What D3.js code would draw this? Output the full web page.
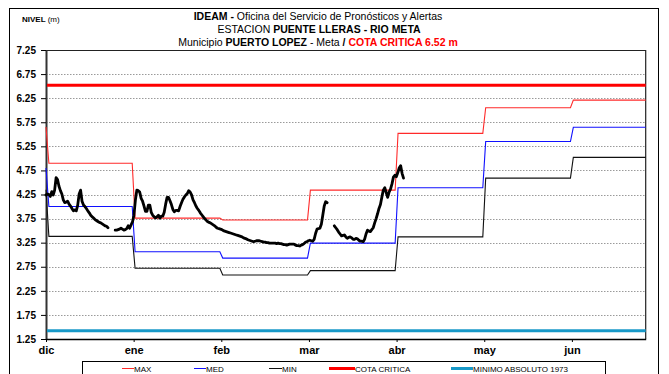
<!DOCTYPE html>
<html>
<head>
<meta charset="utf-8">
<script src="https://cdn.jsdelivr.net/npm/d3@7"></script>
<style>
  body { margin: 0; background: #fff; }
  svg text { font-family: "Liberation Sans", Arial, sans-serif; }
</style>
</head>
<body>
<svg id="chart" width="669" height="374"></svg>
<script>
// Etiquetas del eje de tiempo (una marca por mes)
const meses = ["dic", "ene", "feb", "mar", "abr", "may", "jun"];
const diasPorMes = 30.4;
const diasEje = 208;

// Niveles mensuales históricos (m)
const nivelMax = [4.90, 3.76, 3.72, 4.34, 5.52, 6.05, 6.21];
const nivelMed = [4.00, 3.06, 2.93, 3.24, 4.39, 5.35, 5.645];
const nivelMin = [3.38, 2.72, 2.58, 2.67, 3.37, 4.59, 5.02];
// Valor con que arranca cada curva el primer día
const inicioMax = 5.65;
const inicioMed = 4.80;
const inicioMin = 4.35;

const cotaCritica = 6.52;
const minimoAbsoluto = 1.42;

const ticksNivel = [1.25, 1.75, 2.25, 2.75, 3.25, 3.75, 4.25, 4.75, 5.25, 5.75, 6.25, 6.75, 7.25];

// Nivel observado: dos lecturas por día desde el 1 de diciembre (null = sin dato)
const nivelObservado = [
  4.24, 4.26, 4.25, 4.21, 4.31, 4.24, 4.34, 4.60, 4.56, 4.42,
  4.33, 4.26, 4.14, 4.08, 4.09, 4.11, 4.05, 4.01, 3.96, 3.91,
  3.93, 3.91, 4.03, 4.26, 4.34, 4.11, 4.03, 4.00, 3.96, 3.91,
  3.87, 3.82, 3.79, 3.76, 3.73, 3.71, 3.69, 3.67, 3.66, 3.64,
  3.62, 3.60, 3.59, 3.56, null, null, null, null, 3.51, 3.51,
  3.52, 3.53, 3.55, 3.53, 3.51, 3.52, 3.54, 3.60, 3.55, 3.62,
  3.68, 3.82, 4.13, 4.34, 4.33, 4.30, 4.17, 4.11, 4.01, 3.90,
  3.90, 4.03, 4.03, 3.88, 3.82, 3.79, 3.76, 3.79, 3.82, 3.76,
  3.80, 3.80, 3.88, 4.05, 4.19, 4.19, 4.12, 4.04, 3.94, 3.89,
  3.92, 3.92, 3.91, 4.00, 4.08, 4.15, 4.20, 4.24, 4.27, 4.33,
  4.30, 4.24, 4.14, 4.08, 4.01, 3.96, 3.92, 3.87, 3.83, 3.79,
  3.75, 3.72, 3.69, 3.67, 3.66, 3.64, 3.62, 3.60, 3.57, 3.55,
  3.54, 3.53, 3.52, 3.50, 3.49, 3.48, 3.47, 3.46, 3.45, 3.44,
  3.43, 3.42, 3.41, 3.40, 3.39, 3.38, 3.37, 3.35, 3.34, 3.33,
  3.31, 3.30, 3.29, 3.28, 3.27, 3.28, 3.29, 3.29, 3.29, 3.28,
  3.27, 3.26, 3.26, 3.25, 3.25, 3.24, 3.24, 3.24, 3.24, 3.24,
  3.23, 3.24, 3.23, 3.23, 3.22, 3.21, 3.21, 3.20, 3.21, 3.22,
  3.22, 3.22, 3.22, 3.20, 3.19, 3.19, 3.18, 3.20, 3.21, 3.23,
  3.26, 3.27, 3.29, 3.30, 3.29, 3.28, 3.32, 3.44, 3.53, 3.54,
  3.55, 3.63, 3.82, 4.01, 4.10, 4.08, null, null, null, null,
  3.60, 3.56, 3.52, 3.47, 3.43, 3.39, 3.40, 3.41, 3.37, 3.34,
  3.36, 3.37, 3.35, 3.32, 3.32, 3.34, 3.33, 3.30, 3.28, 3.28,
  3.27, 3.32, 3.43, 3.51, 3.49, 3.48, 3.52, 3.56, 3.66, 3.75,
  3.85, 3.96, 4.04, 4.20, 4.34, 4.39, 4.29, 4.19, 4.30, 4.36,
  4.47, 4.61, 4.65, 4.62, 4.70, 4.80, 4.85, 4.69, 4.59
];

const svg = d3.select("#chart");

const x = d3.scaleLinear().domain([0, diasEje]).range([46, 645.7]);
const y = d3.scaleLinear().domain([1.25, 7.25]).range([339, 50]);

// Marco exterior del gráfico
svg.append("rect")
  .attr("x", 9.5).attr("y", 8.5)
  .attr("width", 649).attr("height", 380)
  .attr("fill", "none").attr("stroke", "#000").attr("stroke-width", 1);

// Líneas de cuadrícula punteadas
svg.append("g")
  .selectAll("line")
  .data(ticksNivel.filter(t => t > 1.25 && t < 7.25))
  .join("line")
  .attr("x1", x(0)).attr("x2", x(diasEje))
  .attr("y1", d => Math.round(y(d)) + 0.5).attr("y2", d => Math.round(y(d)) + 0.5)
  .attr("stroke", "#9a9a9a").attr("stroke-width", 1)
  .attr("stroke-dasharray", "1.5,1.5");

// Borde superior y derecho del área de trazado
svg.append("path")
  .attr("d", `M${x(0)},${y(7.25) + 0.5}H${x(diasEje)}V${y(1.25)}`)
  .attr("fill", "none").attr("stroke", "#222").attr("stroke-width", 1.2);

// Eje Y
const ejeY = d3.axisLeft(y).tickValues(ticksNivel).tickFormat(d3.format(".2f"))
  .tickSize(5).tickSizeOuter(0);
const gY = svg.append("g").attr("transform", `translate(${x(0)},0)`).call(ejeY);
gY.select(".domain").attr("stroke", "#333").attr("stroke-width", 2);
gY.selectAll(".tick line").attr("stroke", "#000");
gY.selectAll(".tick text")
  .attr("x", -10)
  .style("font-size", "10px").style("font-weight", "bold")
  .attr("fill", "#000");

// Eje X con una marca por mes
const ejeX = d3.axisBottom(x)
  .tickValues(meses.map((m, i) => i * diasPorMes))
  .tickFormat((d, i) => meses[i])
  .tickSize(3).tickSizeOuter(0);
const gX = svg.append("g").attr("transform", `translate(0,${y(1.25)})`).call(ejeX);
gX.select(".domain").attr("stroke", "#000").attr("stroke-width", 1.5);
gX.selectAll(".tick line").attr("stroke", "#000");
gX.selectAll(".tick text")
  .attr("y", 7)
  .style("font-size", "11px").style("font-weight", "bold")
  .attr("fill", "#000");

// Curvas escalonadas de niveles mensuales
function escalon(inicio, valores) {
  const pts = [[0, inicio], [1, valores[0]]];
  for (let k = 1; k < valores.length; k++) {
    pts.push([k * diasPorMes - 0.5, valores[k - 1]]);
    pts.push([k * diasPorMes + 0.5, valores[k]]);
  }
  pts.push([diasEje, valores[valores.length - 1]]);
  return pts;
}
const linea = d3.line().x(d => x(d[0])).y(d => y(d[1]));

const series = [
  { valores: nivelMax, inicio: inicioMax, color: "#ff2a2a" },
  { valores: nivelMed, inicio: inicioMed, color: "#1010ff" },
  { valores: nivelMin, inicio: inicioMin, color: "#111" }
];
svg.append("g").selectAll("path")
  .data(series)
  .join("path")
  .attr("d", s => linea(escalon(s.inicio, s.valores)))
  .attr("fill", "none")
  .attr("stroke", s => s.color)
  .attr("stroke-width", 1.1);

// Cota crítica y mínimo absoluto
svg.append("line")
  .attr("x1", x(0) + 1).attr("x2", x(diasEje))
  .attr("y1", y(cotaCritica)).attr("y2", y(cotaCritica))
  .attr("stroke", "#ff0000").attr("stroke-width", 3);
svg.append("line")
  .attr("x1", x(0) + 1).attr("x2", x(diasEje))
  .attr("y1", y(minimoAbsoluto)).attr("y2", y(minimoAbsoluto))
  .attr("stroke", "#1899c8").attr("stroke-width", 3);

// Nivel observado
const lineaObs = d3.line()
  .defined(d => d != null)
  .x((d, i) => x(i / 2))
  .y(d => y(d));
svg.append("path")
  .datum(nivelObservado)
  .attr("d", lineaObs)
  .attr("fill", "none")
  .attr("stroke", "#000")
  .attr("stroke-width", 2.8)
  .attr("stroke-linejoin", "round")
  .attr("stroke-linecap", "round");

// Títulos
const titulo = svg.append("g").attr("text-anchor", "middle").style("font-size", "10.5px").attr("fill", "#000");
const t1 = titulo.append("text").attr("x", 318).attr("y", 20);
t1.append("tspan").style("font-weight", "bold").text("IDEAM - ");
t1.append("tspan").text("Oficina del Servicio de Pronósticos y Alertas");
const t2 = titulo.append("text").attr("x", 319).attr("y", 33);
t2.append("tspan").text("ESTACION ");
t2.append("tspan").style("font-weight", "bold").text("PUENTE LLERAS - RIO META");
const t3 = titulo.append("text").attr("x", 318).attr("y", 46);
t3.append("tspan").text("Municipio ");
t3.append("tspan").style("font-weight", "bold").text("PUERTO LOPEZ");
t3.append("tspan").text(" - Meta  ");
t3.append("tspan").style("font-weight", "bold").text("/  ");
t3.append("tspan").style("font-weight", "bold").attr("fill", "#ff0000").text("COTA CRITICA 6.52 m");

const nivelLbl = svg.append("text").attr("x", 22).attr("y", 22).style("font-size", "8px");
nivelLbl.append("tspan").style("font-weight", "bold").text("NIVEL ");
nivelLbl.append("tspan").text("(m)");

// Leyenda
const leyenda = svg.append("g");
leyenda.append("rect")
  .attr("x", 82.5).attr("y", 361.5).attr("width", 523).attr("height", 30)
  .attr("fill", "#fff").attr("stroke", "#000").attr("stroke-width", 1);
const itemsLeyenda = [
  { nombre: "MAX", color: "#ff2a2a", ancho: 1, x0: 122, x1: 134 },
  { nombre: "MED", color: "#1010ff", ancho: 1, x0: 194, x1: 206 },
  { nombre: "MIN", color: "#111", ancho: 1, x0: 269, x1: 282 },
  { nombre: "COTA CRITICA", color: "#ff0000", ancho: 3, x0: 329, x1: 355 },
  { nombre: "MINIMO ABSOLUTO 1973", color: "#1899c8", ancho: 3, x0: 451, x1: 473 }
];
const item = leyenda.selectAll("g.item").data(itemsLeyenda).join("g").attr("class", "item");
item.append("line")
  .attr("x1", d => d.x0).attr("x2", d => d.x1)
  .attr("y1", 368.5).attr("y2", 368.5)
  .attr("stroke", d => d.color).attr("stroke-width", d => d.ancho);
item.append("text")
  .attr("x", d => d.x1).attr("y", 371.5)
  .style("font-size", "8px").attr("fill", "#000")
  .text(d => d.nombre);
</script>
</body>
</html>
